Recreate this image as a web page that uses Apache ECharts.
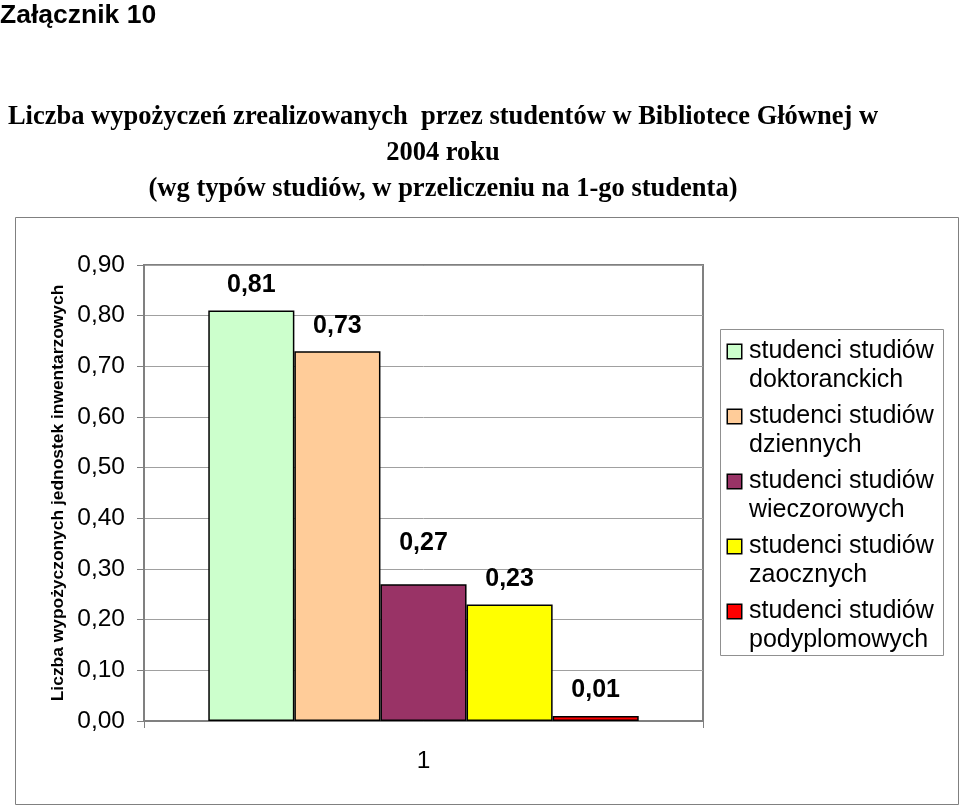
<!DOCTYPE html>
<html><head><meta charset="utf-8">
<script src="https://cdn.jsdelivr.net/npm/echarts@6/dist/echarts.min.js"></script>
<style>html,body{margin:0;padding:0;background:#fff}#c{width:960px;height:808px}</style>
</head><body><div id="c"></div>
<script>
const categories = ['1'];
const seriesNames = [
  'studenci studiów doktoranckich',
  'studenci studiów dziennych',
  'studenci studiów wieczorowych',
  'studenci studiów zaocznych',
  'studenci studiów podyplomowych'
];
const doktoranckie = [0.81];
const dzienne = [0.73];
const wieczorowe = [0.27];
const zaoczne = [0.23];
const podyplomowe = [0.01];
const yMin = 0, yMax = 0.9, yStep = 0.1;

const seriesValues = [doktoranckie, dzienne, wieczorowe, zaoczne, podyplomowe];
const seriesColors = ['#CCFFCC', '#FFCC99', '#993366', '#FFFF00', '#FF0000'];
const labelDistances = [13, 13, 29, 13, 13];

const fmt = v => Number(v).toFixed(2).replace('.', ',');
const SANS = 'Arial, "Liberation Sans", sans-serif';
const SERIF = '"Times New Roman", "Liberation Serif", serif';

const rich = {
  g: { width: 8, height: 13 },
  s: { width: 21, height: 13 },
  t: { fontSize: 25, lineHeight: 29, color: '#000', fontFamily: SANS }
};
seriesColors.forEach((c, i) => {
  rich['b' + i] = { width: 13, height: 13, backgroundColor: c, borderColor: '#000', borderWidth: 1.5 };
});

const chart = echarts.init(document.getElementById('c'), null, { renderer: 'canvas' });
chart.setOption({
  animation: false,
  backgroundColor: '#fff',
  title: [
    { text: 'Załącznik 10', left: 0, top: 2, padding: 0,
      textStyle: { fontFamily: SANS, fontWeight: 'bold', fontSize: 26.5, color: '#000' } },
    { text: 'Liczba wypożyczeń zrealizowanych  przez studentów w Bibliotece Głównej w\n2004 roku\n(wg typów studiów, w przeliczeniu na 1-go studenta)',
      left: 443, textAlign: 'center', top: 99, padding: 0,
      textStyle: { fontFamily: SERIF, fontWeight: 'bold', fontSize: 26.5, lineHeight: 36, color: '#000' } }
  ],
  graphic: [
    { type: 'rect', shape: { x: 15.5, y: 217.5, width: 943, height: 587 },
      style: { fill: 'none', stroke: '#808080', lineWidth: 1 }, silent: true },
    { type: 'rect', shape: { x: 720.5, y: 329.5, width: 223, height: 326 },
      style: { fill: 'none', stroke: '#909090', lineWidth: 1 }, silent: true }
  ],
  legend: {
    orient: 'vertical', left: 720, top: 333, padding: [6, 0, 0, 3],
    itemGap: 11, itemWidth: 0, itemHeight: 0, icon: 'none', selectedMode: false,
    data: seriesNames,
    formatter: name => {
      const i = seriesNames.indexOf(name);
      const parts = name.split(' ');
      return '{b' + i + '|}{g|}{t|' + parts.slice(0, 2).join(' ') + '}\n{s|}{t|' + parts.slice(2).join(' ') + '}';
    },
    textStyle: { rich: rich }
  },
  grid: { left: 144, right: 257, top: 265, bottom: 87, show: true,
          borderColor: '#808080', borderWidth: 2, backgroundColor: '#fff' },
  xAxis: {
    type: 'category', data: categories,
    axisLine: { lineStyle: { color: '#808080', width: 1 } },
    axisTick: { show: true, length: 7, lineStyle: { color: '#808080' } },
    axisLabel: { fontSize: 24.5, color: '#000', fontFamily: SANS, margin: 28 }
  },
  yAxis: {
    type: 'value', min: yMin, max: yMax, interval: yStep,
    name: 'Liczba wypożyczonych jednostek inwentarzowych',
    nameLocation: 'middle', nameGap: 76,
    nameTextStyle: { fontFamily: SANS, fontWeight: 'bold', fontSize: 17.4, color: '#000' },
    axisLine: { show: true, lineStyle: { color: '#808080', width: 1 } },
    axisTick: { show: true, length: 7, lineStyle: { color: '#808080' } },
    splitLine: { show: true, lineStyle: { color: '#a0a0a0', width: 1 } },
    axisLabel: { fontSize: 24.5, color: '#000', fontFamily: SANS, margin: 19, formatter: v => fmt(v) }
  },
  series: seriesNames.map((n, i) => ({
    name: n, type: 'bar', data: seriesValues[i],
    barGap: '0%', barCategoryGap: '23%',
    itemStyle: { color: seriesColors[i], borderColor: '#000', borderWidth: 1.5 },
    label: { show: true, position: 'top', distance: labelDistances[i],
             fontFamily: SANS, fontWeight: 'bold', fontSize: 25, color: '#000',
             formatter: p => fmt(p.value) }
  }))
});
</script></body></html>
